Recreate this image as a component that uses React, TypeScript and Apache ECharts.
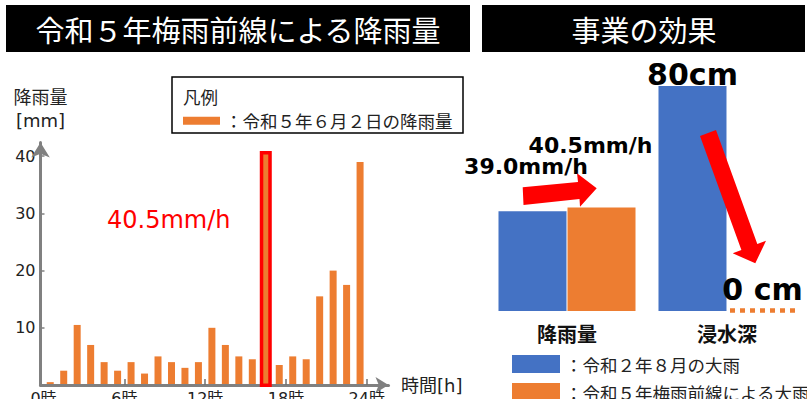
import React, { useEffect, useRef } from 'react';
import * as echarts from 'echarts';

// ---------- data ----------
const hours = [0, 1, 2, 3, 4, 5, 6, 7, 8, 9, 10, 11, 12, 13, 14, 15, 16, 17, 18, 19, 20, 21, 22, 23];
const rain = [0.5, 2.5, 10.5, 7, 4, 2.5, 4, 2, 5, 4, 3, 4, 10, 7, 5, 4.5, 40.5, 3.5, 5, 4.5, 15.5, 20, 17.5, 39];
const peakHour = 16;
const xLabelHours = [0, 6, 12, 18, 24];
const xTickHours = [6, 12, 18, 24];
const yTickValues = [10, 20, 30, 40];

const compareCats = ['降雨量', '浸水深'];
const rainR2 = 39.0; // 令和２年８月 (mm/h)
const rainR5 = 40.5; // 令和５年梅雨前線 (mm/h)
const depthR2 = 80; // cm
const depthR5 = 0; // cm

const leftTitle = '令和５年梅雨前線による降雨量';
const rightTitle = '事業の効果';
const leftLegendName = '：令和５年６月２日の降雨量';
const blueName = '：令和２年８月の大雨';
const orangeName = '：令和５年梅雨前線による大雨';

// ---------- styles ----------
const ORANGE = '#ED7D31';
const BLUE = '#4472C4';
const RED = '#FF0000';
const AXIS = '#808080';
const TEXT = '#222222';
const LATIN = '"DejaVu Sans", "Noto Sans CJK JP", sans-serif';
const CJK = '"Noto Sans CJK JP", sans-serif';

function buildOption(): any {
  return {
    animation: false,
    backgroundColor: '#ffffff',
    grid: [
      { left: 40.5, top: 142.5, width: 348, height: 242.5, outerBoundsMode: 'none', containLabel: false },
      { left: 487, top: 86, width: 320, height: 225, outerBoundsMode: 'none', containLabel: false },
    ],
    legend: [
      {
        data: [leftLegendName],
        left: 183,
        top: 112,
        padding: 0,
        icon: 'rect',
        itemWidth: 37,
        itemHeight: 8,
        selectedMode: false,
        textStyle: { fontSize: 17.5, color: TEXT, fontFamily: CJK },
      },
      {
        data: [blueName, orangeName],
        orient: 'vertical',
        left: 512,
        top: 355,
        height: 70,
        padding: 0,
        icon: 'rect',
        itemWidth: 48,
        itemHeight: 18,
        itemGap: 10,
        selectedMode: false,
        textStyle: { fontSize: 17.5, color: TEXT, fontFamily: CJK },
      },
    ],
    xAxis: [
      {
        type: 'value',
        gridIndex: 0,
        min: -0.223,
        max: 25.61,
        z: 3,
        splitLine: { show: false },
        axisLine: {
          show: true,
          onZero: false,
          symbol: ['none', 'arrow'],
          symbolSize: [12, 13],
          lineStyle: { color: AXIS, width: 3 },
        },
        axisTick: {
          show: true,
          inside: true,
          length: 6,
          customValues: xTickHours,
          lineStyle: { color: '#707070', width: 1.5 },
        },
        axisLabel: {
          customValues: xLabelHours,
          formatter: (v: number) => `${v}時`,
          fontSize: 16,
          lineHeight: 16,
          color: TEXT,
          margin: 5,
          fontFamily: LATIN,
        },
        name: '時間[h]',
        nameLocation: 'end',
        nameGap: 12.5,
        nameTextStyle: { fontSize: 18, color: TEXT, fontFamily: LATIN },
      },
      {
        type: 'category',
        gridIndex: 1,
        data: compareCats,
        axisLine: { show: false },
        axisTick: { show: false },
        axisLabel: {
          fontSize: 20,
          lineHeight: 20,
          fontWeight: 'bold',
          color: '#111',
          margin: 12,
          fontFamily: CJK,
        },
      },
    ],
    yAxis: [
      {
        type: 'value',
        gridIndex: 0,
        min: 0,
        max: 42.4,
        z: 3,
        splitLine: { show: false },
        axisLine: {
          show: true,
          onZero: false,
          symbol: ['none', 'arrow'],
          symbolSize: [14, 15],
          lineStyle: { color: AXIS, width: 3 },
        },
        axisTick: {
          show: true,
          inside: true,
          length: 4,
          customValues: yTickValues,
          lineStyle: { color: AXIS, width: 1.5 },
        },
        axisLabel: {
          customValues: yTickValues,
          fontSize: 16,
          color: TEXT,
          margin: 5,
          fontFamily: LATIN,
        },
        name: '降雨量\n[mm]',
        nameLocation: 'end',
        nameGap: 11,
        nameTextStyle: { fontSize: 18, lineHeight: 23, color: TEXT, fontFamily: LATIN, align: 'center' },
      },
      { type: 'value', gridIndex: 1, min: 0, max: 80, show: false },
      { type: 'value', gridIndex: 1, min: 0, max: 88, show: false },
    ],
    series: [
      {
        type: 'bar',
        name: leftLegendName,
        xAxisIndex: 0,
        yAxisIndex: 0,
        barWidth: 7,
        data: hours.map((h, i) => [h + 0.5, rain[i]]),
        itemStyle: { color: ORANGE },
      },
      {
        type: 'custom',
        xAxisIndex: 0,
        yAxisIndex: 0,
        z: 5,
        data: [[peakHour + 0.5, rain[peakHour]]],
        renderItem: (_p: any, api: any) => {
          const top = api.coord([api.value(0), api.value(1)]);
          const bot = api.coord([api.value(0), 0]);
          return {
            type: 'rect',
            shape: { x: top[0] - 4.25, y: top[1] - 0.5, width: 8.5, height: bot[1] - top[1] + 0.75 },
            style: { fill: 'none', stroke: RED, lineWidth: 3.5 },
          };
        },
      },
      {
        type: 'bar',
        name: blueName,
        xAxisIndex: 1,
        yAxisIndex: 2,
        stack: 'blue',
        barWidth: 68,
        barGap: '1.5%',
        data: [rainR2, '-'],
        itemStyle: { color: BLUE },
        label: {
          show: true,
          position: 'top',
          distance: 34,
          offset: [-6.5, 0],
          formatter: (p: any) => `${Number(p.value).toFixed(1)}mm/h`,
          fontSize: 22,
          lineHeight: 22,
          fontWeight: 'bold',
          color: '#000',
          fontFamily: LATIN,
        },
      },
      {
        type: 'bar',
        name: orangeName,
        xAxisIndex: 1,
        yAxisIndex: 2,
        stack: 'orange',
        barWidth: 68,
        barGap: '1.5%',
        data: [rainR5, '-'],
        itemStyle: { color: ORANGE },
        label: {
          show: true,
          position: 'top',
          distance: 51,
          offset: [-11, 0],
          formatter: (p: any) => `${Number(p.value).toFixed(1)}mm/h`,
          fontSize: 22,
          lineHeight: 22,
          fontWeight: 'bold',
          color: '#000',
          fontFamily: LATIN,
        },
      },
      {
        type: 'bar',
        name: blueName,
        xAxisIndex: 1,
        yAxisIndex: 1,
        stack: 'blue',
        barWidth: 68,
        barGap: '1.5%',
        data: ['-', depthR2],
        itemStyle: { color: BLUE },
        label: {
          show: true,
          position: 'top',
          distance: -3,
          formatter: (p: any) => `${p.value}cm`,
          fontSize: 30,
          lineHeight: 30,
          fontWeight: 'bold',
          color: '#000',
          fontFamily: LATIN,
        },
      },
      {
        type: 'bar',
        name: orangeName,
        xAxisIndex: 1,
        yAxisIndex: 1,
        stack: 'orange',
        barWidth: 68,
        barGap: '1.5%',
        data: ['-', depthR5],
        itemStyle: { color: ORANGE },
        label: {
          show: true,
          position: 'top',
          distance: 7,
          offset: [1, 0],
          formatter: (p: any) => `${p.value} cm`,
          fontSize: 30,
          lineHeight: 30,
          fontWeight: 'bold',
          color: '#000',
          fontFamily: LATIN,
        },
      },
      {
        type: 'custom',
        name: orangeName,
        xAxisIndex: 1,
        yAxisIndex: 1,
        z: 4,
        data: [[compareCats[1], depthR5]],
        renderItem: (_p: any, api: any) => {
          const c = api.coord([api.value(0), api.value(1)]);
          return {
            type: 'line',
            shape: { x1: c[0] + 3, y1: c[1] - 0.5, x2: c[0] + 68, y2: c[1] - 0.5 },
            style: { stroke: ORANGE, lineWidth: 4.5, lineDash: [5, 5] },
          };
        },
      },
    ],
    graphic: [
      { type: 'rect', shape: { x: 6, y: 5, width: 464, height: 47 }, style: { fill: '#000' } },
      {
        type: 'text',
        style: {
          x: 238, y: 28.5, text: leftTitle, fill: '#fff', fontSize: 29, fontFamily: CJK,
          textAlign: 'center', textVerticalAlign: 'middle', align: 'center', verticalAlign: 'middle',
        },
      },
      { type: 'rect', shape: { x: 482, y: 5, width: 323, height: 47 }, style: { fill: '#000' } },
      {
        type: 'text',
        style: {
          x: 644, y: 28.5, text: rightTitle, fill: '#fff', fontSize: 29, fontFamily: CJK,
          textAlign: 'center', textVerticalAlign: 'middle', align: 'center', verticalAlign: 'middle',
        },
      },
      {
        type: 'rect',
        shape: { x: 172, y: 77, width: 291, height: 56 },
        style: { fill: 'none', stroke: '#000', lineWidth: 1.5 },
      },
      {
        type: 'text',
        style: {
          x: 183, y: 96, text: '凡例', fill: TEXT, fontSize: 17.5, fontFamily: CJK,
          textAlign: 'left', textVerticalAlign: 'middle', align: 'left', verticalAlign: 'middle',
        },
      },
      {
        type: 'text',
        style: {
          x: 107, y: 220, text: `${rain[peakHour]}mm/h`, fill: RED, fontSize: 24, fontFamily: LATIN,
          textAlign: 'left', textVerticalAlign: 'middle', align: 'left', verticalAlign: 'middle',
        },
      },
      {
        type: 'polygon',
        z: 100,
        shape: {
          points: [
            [522.7, 187.3], [578, 182], [577, 173.3], [596.7, 188.3], [580, 206.7], [579.5, 199], [523.5, 205],
          ],
        },
        style: { fill: RED },
      },
      {
        type: 'polygon',
        z: 100,
        shape: {
          points: [
            [700, 136], [716, 130], [757.3, 244], [766, 240.7], [755.3, 263.3], [732.7, 253.3], [741.4, 250],
          ],
        },
        style: { fill: RED },
      },
    ],
  };
}

export default function App() {
  const ref = useRef<HTMLDivElement>(null);
  useEffect(() => {
    if (!ref.current) return;
    const chart = echarts.init(ref.current, null, { renderer: 'svg' });
    chart.setOption(buildOption());
    return () => chart.dispose();
  }, []);
  return (
    <div
      ref={ref}
      style={{ position: 'fixed', left: 0, top: 0, width: 807, height: 399, background: '#fff' }}
    />
  );
}
